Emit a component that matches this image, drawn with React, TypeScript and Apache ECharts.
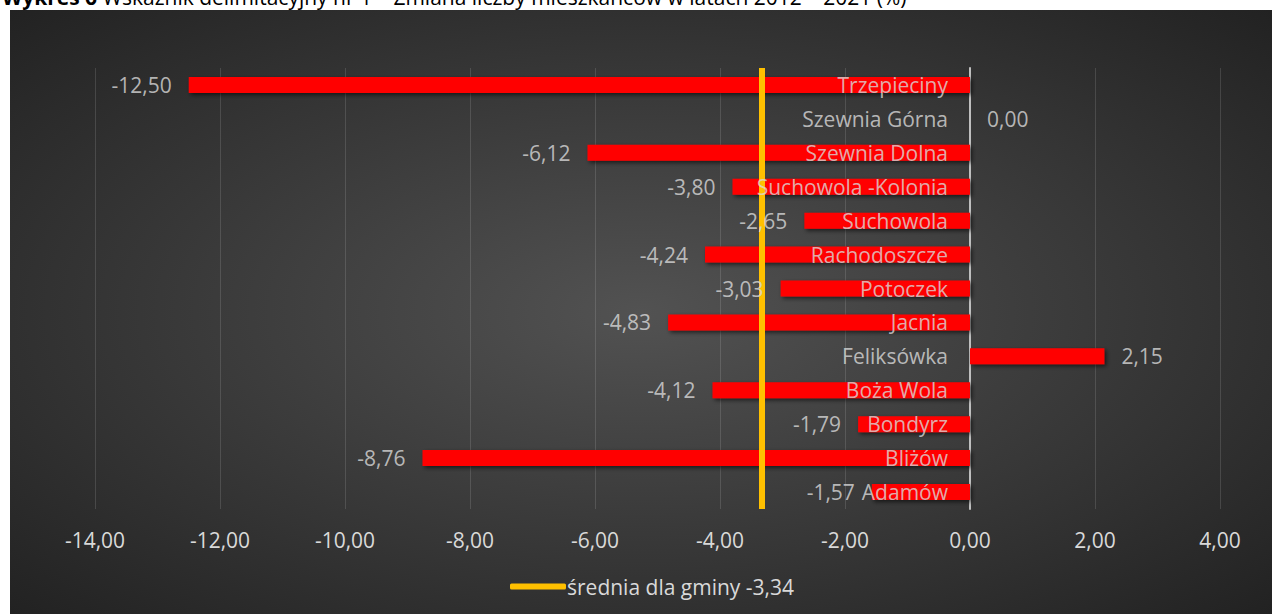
import React, { useEffect, useRef } from "react";
import * as echarts from "echarts";

const categories = [
  "Adamów",
  "Bliżów",
  "Bondyrz",
  "Boża Wola",
  "Feliksówka",
  "Jacnia",
  "Potoczek",
  "Rachodoszcze",
  "Suchowola",
  "Suchowola -Kolonia",
  "Szewnia Dolna",
  "Szewnia Górna",
  "Trzepieciny",
];
const values = [-1.57, -8.76, -1.79, -4.12, 2.15, -4.83, -3.03, -4.24, -2.65, -3.8, -6.12, 0.0, -12.5];
const average = -3.34;
const averageName = "średnia dla gminy -3,34";
const titleBold = "Wykres 6";
const titleRest = " Wskaźnik delimitacyjny nr 1 – Zmiana liczby mieszkańców w latach 2012 – 2021 (%)";

const fmt = (v: number) => v.toFixed(2).replace(".", ",");
const FONT = "Open Sans";
const FS = 21;
const TXT = "#d9d9d9";

export default function App() {
  const ref = useRef<HTMLDivElement>(null);
  useEffect(() => {
    if (!ref.current) return;
    const chart = echarts.init(ref.current, undefined, { renderer: "svg" });
    chart.setOption({
      animation: false,
      backgroundColor: "#ffffff",
      textStyle: { fontFamily: FONT },
      graphic: [
        {
          type: "rect",
          z: -10,
          silent: true,
          shape: { x: 10, y: 10, width: 1262, height: 604 },
          style: {
            fill: {
              type: "radial",
              x: 0.5,
              y: 0.5,
              r: 0.75,
              colorStops: [
                { offset: 0, color: "#525252" },
                { offset: 1, color: "#1f1f1f" },
              ],
            },
          },
        },
        {
          type: "text",
          x: 2,
          y: -14,
          z: 10,
          style: {
            text: `{b|${titleBold}}{n|${titleRest}}`,
            rich: {
              b: { fontWeight: "bold", fontSize: FS, fill: "#000", fontFamily: FONT },
              n: { fontSize: FS, fill: "#000", fontFamily: FONT },
            },
          },
        },
      ],
      grid: { left: 95, right: 52, top: 68, bottom: 105, containLabel: false, outerBoundsMode: "none" },
      legend: {
        left: 505,
        top: 571,
        data: [
          {
            name: averageName,
            icon: "roundRect",
            itemStyle: { color: "#FFC000" },
          },
        ],
        itemWidth: 56,
        itemHeight: 6,
        textStyle: { color: TXT, fontSize: FS, fontFamily: FONT, padding: [0, 0, 0, -4] },
      },
      xAxis: {
        type: "value",
        min: -14,
        max: 4,
        interval: 2,
        axisLine: { show: false },
        axisTick: { show: false },
        splitLine: { show: true, lineStyle: { color: "rgba(255,255,255,0.13)", width: 1 } },
        axisLabel: {
          color: TXT,
          fontSize: FS,
          fontFamily: FONT,
          margin: 20,
          formatter: (v: number) => fmt(v),
        },
      },
      yAxis: {
        type: "category",
        data: categories,
        z: 1,
        axisLine: { show: true, onZero: true, lineStyle: { color: "#bfbfbf", width: 2 } },
        axisTick: { show: false },
        splitLine: { show: false },
        axisLabel: { show: false },
      },
      series: [
        {
          type: "bar",
          name: "wartość",
          barWidth: 16,
          itemStyle: {
            color: "#FF0000",
            shadowBlur: 4,
            shadowColor: "rgba(0,0,0,0.6)",
            shadowOffsetX: 2,
            shadowOffsetY: 2,
          },
          data: values,
          z: 2,
        },
        {
          type: "line",
          name: averageName,
          data: [],
          z: 5,
          markLine: {
            silent: true,
            symbol: "none",
            label: { show: false },
            lineStyle: { color: "#FFC000", width: 6, type: "solid" },
            data: [{ xAxis: average }],
          },
        },
        {
          type: "scatter",
          name: "nazwy",
          z: 10,
          silent: true,
          symbolSize: 0,
          itemStyle: { color: "transparent" },
          data: categories.map((c) => [0, c]),
          label: {
            show: true,
            position: "left",
            distance: 22,
            color: TXT,
            fontSize: FS,
            fontFamily: FONT,
            formatter: (p: any) => p.value[1],
          },
        },
        {
          type: "scatter",
          name: "wartości",
          z: 10,
          silent: true,
          symbolSize: 0,
          itemStyle: { color: "transparent" },
          data: values.map((v, i) => ({
            value: [v, categories[i]],
            label: { position: v < 0 ? "left" : "right" },
          })),
          label: {
            show: true,
            distance: 17,
            color: TXT,
            fontSize: FS,
            fontFamily: FONT,
            formatter: (p: any) => fmt(p.value[0]),
          },
        },
      ],
    });
    return () => chart.dispose();
  }, []);
  return (
    <div
      ref={ref}
      style={{ position: "fixed", left: 0, top: 0, width: 1272, height: 614 }}
    />
  );
}
